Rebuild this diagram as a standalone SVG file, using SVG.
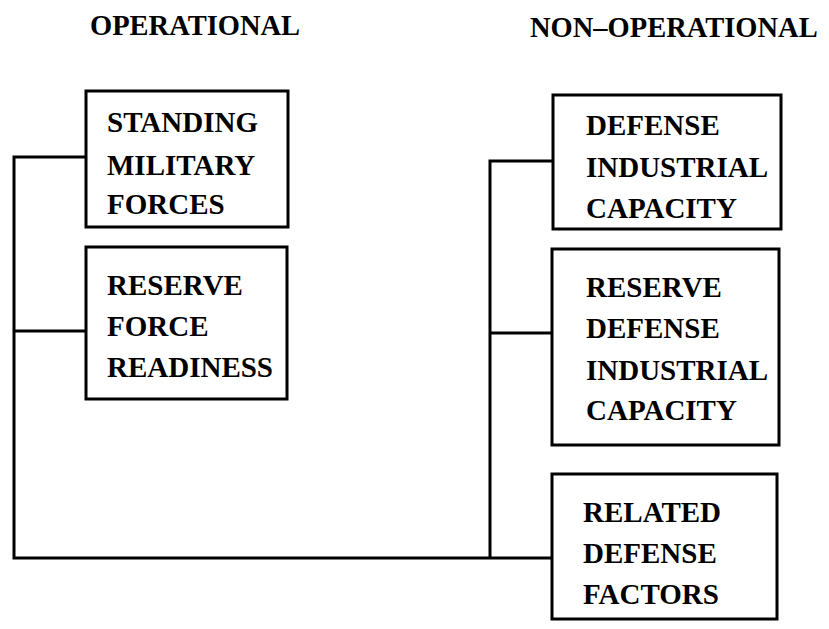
<svg xmlns="http://www.w3.org/2000/svg" width="829" height="629" viewBox="0 0 829 629">
<style>
.box{fill:#fff;stroke:#000;stroke-width:3}
.wire{fill:none;stroke:#000;stroke-width:3}
text{font-family:"Liberation Serif","Times New Roman",serif;font-weight:bold;font-size:29px;fill:#000}
.title{font-size:28.5px}
</style>
<rect width="829" height="629" fill="#fff"/>
<text class="title" x="90" y="35">OPERATIONAL</text>
<text class="title" x="530" y="37">NON–OPERATIONAL</text>
<g id="connectors">
<path class="wire" d="M86,157 H14 V558 H552"/>
<path class="wire" d="M86,331 H14"/>
<path class="wire" d="M553,161 H490 V558"/>
<path class="wire" d="M552,333 H490"/>
</g>
<g id="standing">
<rect class="box" x="86" y="91" width="202" height="136"/>
<text x="107" y="132">STANDING</text>
<text x="107" y="175">MILITARY</text>
<text x="107" y="214">FORCES</text>
</g>
<g id="reserve-force">
<rect class="box" x="86" y="247" width="201" height="152"/>
<text x="107" y="295">RESERVE</text>
<text x="107" y="336">FORCE</text>
<text x="107" y="377">READINESS</text>
</g>
<g id="defense-industrial">
<rect class="box" x="553" y="95" width="228" height="134"/>
<text x="586" y="135">DEFENSE</text>
<text x="586" y="177">INDUSTRIAL</text>
<text x="586" y="218">CAPACITY</text>
</g>
<g id="reserve-defense">
<rect class="box" x="552" y="249" width="227" height="196"/>
<text x="586" y="297">RESERVE</text>
<text x="586" y="338">DEFENSE</text>
<text x="586" y="380">INDUSTRIAL</text>
<text x="586" y="420">CAPACITY</text>
</g>
<g id="related">
<rect class="box" x="552" y="474" width="225" height="145"/>
<text x="583" y="522">RELATED</text>
<text x="583" y="563">DEFENSE</text>
<text x="583" y="604">FACTORS</text>
</g>
</svg>
